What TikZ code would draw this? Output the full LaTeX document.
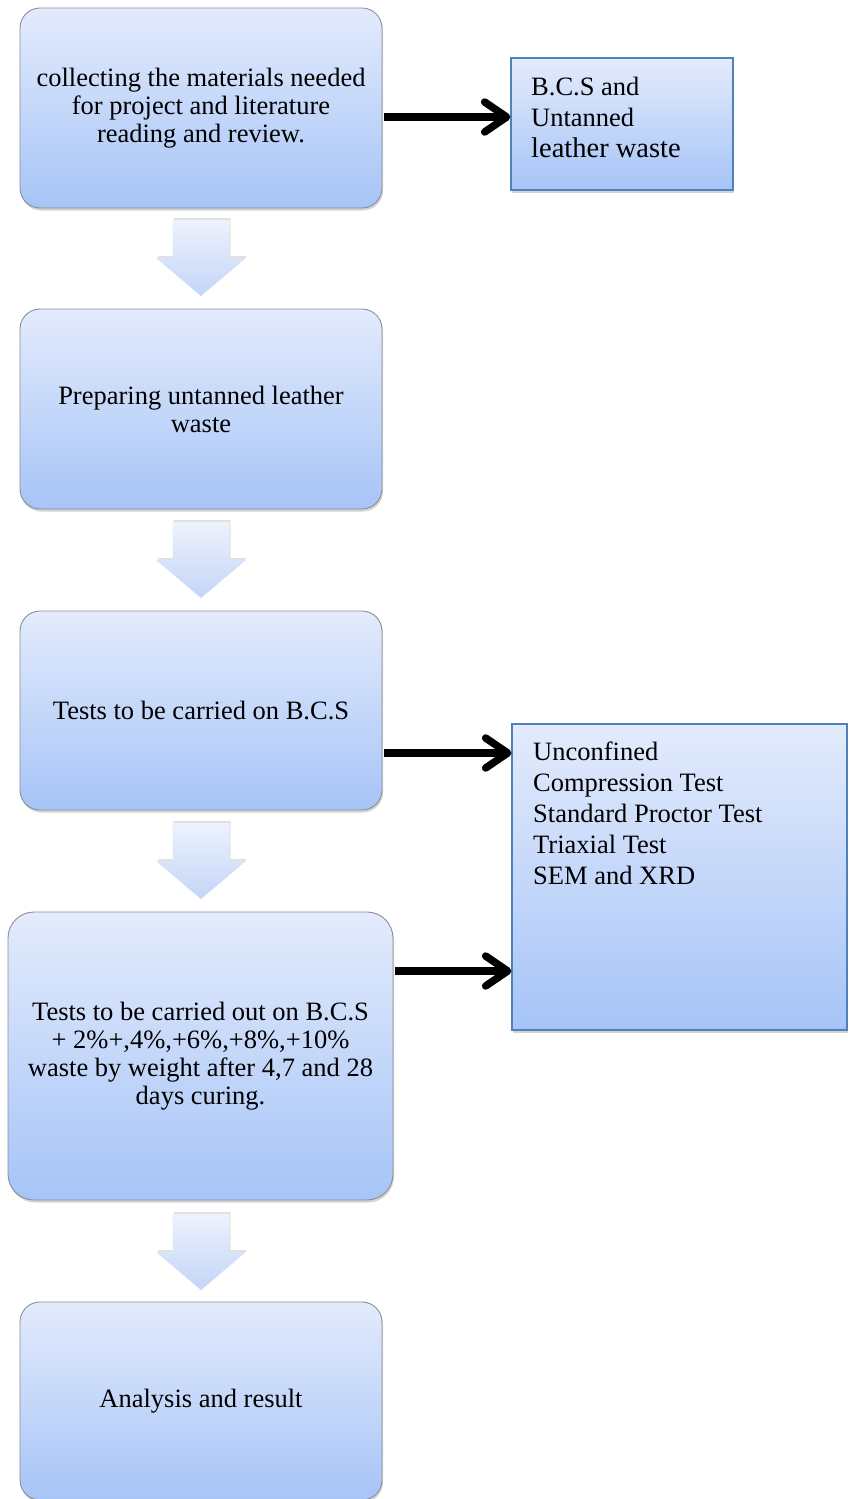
\documentclass[tikz,border=0pt]{standalone}
\usepackage{fontspec}
\setmainfont{Liberation Serif}
\usetikzlibrary{arrows.meta,shadows}
\definecolor{gtop}{HTML}{E3EBFC}
\definecolor{gbot}{HTML}{A6C4F7}
\definecolor{atop}{HTML}{EDF2FD}
\definecolor{abot}{HTML}{C3D5F7}
\definecolor{rbord}{HTML}{8A8E96}
\definecolor{sbord}{HTML}{4F81BD}
\tikzset{
  stepbox/.style={draw=rbord, line width=0.9pt, rounded corners=20pt, top color=gtop, bottom color=gbot,
    drop shadow={opacity=0.35, shadow xshift=1pt, shadow yshift=-2.5pt},
    align=center, font=\fontsize{26.5}{28}\selectfont, inner sep=0pt},
  sidebox/.style={draw=sbord, line width=1.2pt, top color=gtop, bottom color=gbot,
    drop shadow={opacity=0.35, shadow xshift=1pt, shadow yshift=-2.5pt}, inner sep=0pt},
  sidetext/.style={align=left, anchor=west, font=\fontsize{26.5}{31}\selectfont, inner sep=0pt},
  blackarr/.style={line width=7.5pt, -{Straight Barb[length=22pt, width=30pt, round]},
    preaction={draw=black!25, transform canvas={shift={(1pt,-2pt)}}}},
  blockarr/.pic={
    \fill[black!12, shift={(1pt,2pt)}] (-28.5,0) -- (28.5,0) -- (28.5,38) -- (45,38) -- (0,76) -- (-45,38) -- (-28.5,38) -- cycle;
    \shade[top color=atop, bottom color=abot] (-28.5,0) -- (28.5,0) -- (28.5,38) -- (45,38) -- (0,76) -- (-45,38) -- (-28.5,38) -- cycle;
  }
}
\begin{document}
\begin{tikzpicture}[x=1pt,y=-1pt]
\useasboundingbox (0,0) rectangle (850,1499);

% main steps
\node[stepbox, minimum width=362pt, minimum height=200pt] (b1) at (201,108)
  {collecting the materials needed\\for project and literature\\reading and review.};
\node[stepbox, minimum width=362pt, minimum height=200pt] (b2) at (201,409)
  {Preparing untanned leather\\waste};
\node[stepbox, minimum width=362pt, minimum height=199pt] (b3) at (201,710.5)
  {Tests to be carried on B.C.S};
\node[stepbox, minimum width=385pt, minimum height=288pt, rounded corners=26pt] (b4) at (200.5,1056)
  {Tests to be carried out on B.C.S\\+ 2\%+,4\%,+6\%,+8\%,+10\%\\waste by weight after 4,7 and 28\\days curing.};
\node[stepbox, minimum width=362pt, minimum height=198pt] (b5) at (201,1401)
  {Analysis and result};

% side boxes
\node[sidebox, minimum width=222pt, minimum height=132pt] (s1) at (622,124) {};
\node[sidetext] (t1) at (531,117.5) {B.C.S and\\Untanned\\{\fontsize{28.5}{31}\selectfont leather waste}};
\node[sidebox, minimum width=335pt, minimum height=306pt] (s2) at (679.5,877) {};
\node[sidetext] (t2) at (533,813) {Unconfined\\Compression Test\\Standard Proctor Test\\Triaxial Test\\SEM and XRD};

% block arrows
\pic (d1) at (201,220) {blockarr};
\pic (d2) at (201,522) {blockarr};
\pic (d3) at (201,823) {blockarr};
\pic (d4) at (201,1214) {blockarr};

% black arrows
\draw[blackarr] (b1.east) ++(2,9) coordinate (a1s) -- (s1.west |- a1s);
\draw[blackarr] (b3.east) ++(2,42.5) coordinate (a2s) -- (s2.west |- a2s);
\draw[blackarr] (b4.east) ++(2,-85) coordinate (a3s) -- (s2.west |- a3s);
\end{tikzpicture}
\end{document}
